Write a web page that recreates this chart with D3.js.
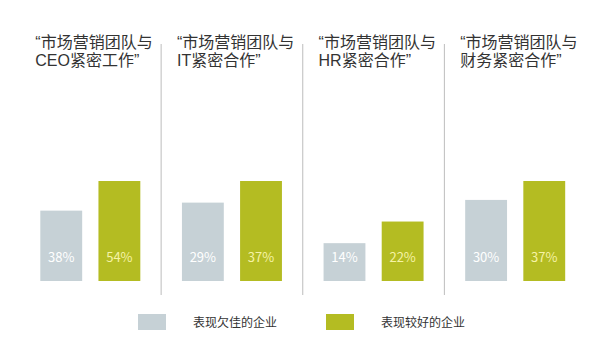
<!DOCTYPE html>
<html><head><meta charset="utf-8">
<script src="https://cdn.jsdelivr.net/npm/d3@7"></script>
<style>body{margin:0;background:#fff}svg{display:block}text{font-family:"Noto Sans CJK SC","Noto Sans",sans-serif}text.t{font-family:"Liberation Sans","Noto Sans CJK SC",sans-serif}</style>
</head><body><svg id="c" width="600" height="359"></svg>
<script>
const panels = ["CEO", "IT", "HR", "财务"];
const titleLine1 = ["“市场营销团队与", "“市场营销团队与", "“市场营销团队与", "“市场营销团队与"];
const titleLine2 = ["CEO紧密工作”", "IT紧密合作”", "HR紧密合作”", "财务紧密合作”"];
const seriesNames = ["表现欠佳的企业", "表现较好的企业"];
const poorValues = [38, 29, 14, 30];
const goodValues = [54, 37, 22, 37];
const sharedMax = 37;

const colors = ["#c6d1d6", "#b4bc22"];
const labelColors = ["#ffffff", "#f6f3a6"];

const svg = d3.select("#c");
const x = d3.scaleBand().domain(panels).range([19.5, 586]).padding(0);
const inner = d3.scaleBand().domain([0, 1]).range([0, 100]).paddingInner(0.28).paddingOuter(0);
const barBottom = 281, barTop = 181;

// dividers
panels.slice(1).forEach(p => {
  svg.append("line").attr("x1", x(p)).attr("x2", x(p)).attr("y1", 44).attr("y2", 295)
    .attr("stroke", "#bdbdbd").attr("stroke-width", 1);
});

panels.forEach((p, i) => {
  const cx = x(p) + x.bandwidth() / 2;
  const vals = [poorValues[i], goodValues[i]];
  const y = d3.scaleLinear().domain([0, Math.max(sharedMax, d3.max(vals))]).range([barBottom, barTop]);
  const g = svg.append("g").attr("transform", `translate(${cx - 50},0)`);
  g.selectAll("rect").data(vals).join("rect")
    .attr("x", (d, j) => inner(j)).attr("width", inner.bandwidth())
    .attr("y", d => y(d)).attr("height", d => barBottom - y(d))
    .attr("fill", (d, j) => colors[j]);
  g.selectAll("text.v").data(vals).join("text").attr("class", "v")
    .attr("x", (d, j) => inner(j) + inner.bandwidth() / 2).attr("y", 262)
    .attr("text-anchor", "middle").attr("font-size", 13)
    .attr("fill", (d, j) => labelColors[j]).text(d => d + "%");
  const tx = cx - 55;
  svg.append("text").attr("class", "t").attr("x", tx).attr("y", 48).attr("font-size", 16).attr("fill", "#333").text(titleLine1[i]);
  svg.append("text").attr("class", "t").attr("x", tx).attr("y", 66).attr("font-size", 16).attr("fill", "#333").text(titleLine2[i]);
});

// legend
const legX = [138, 326];
seriesNames.forEach((s, j) => {
  svg.append("rect").attr("x", legX[j]).attr("y", 314).attr("width", 28).attr("height", 16).attr("fill", colors[j]);
  svg.append("text").attr("x", legX[j] + 55).attr("y", 326.5).attr("font-size", 12).attr("fill", "#333").text(s);
});
</script></body></html>
